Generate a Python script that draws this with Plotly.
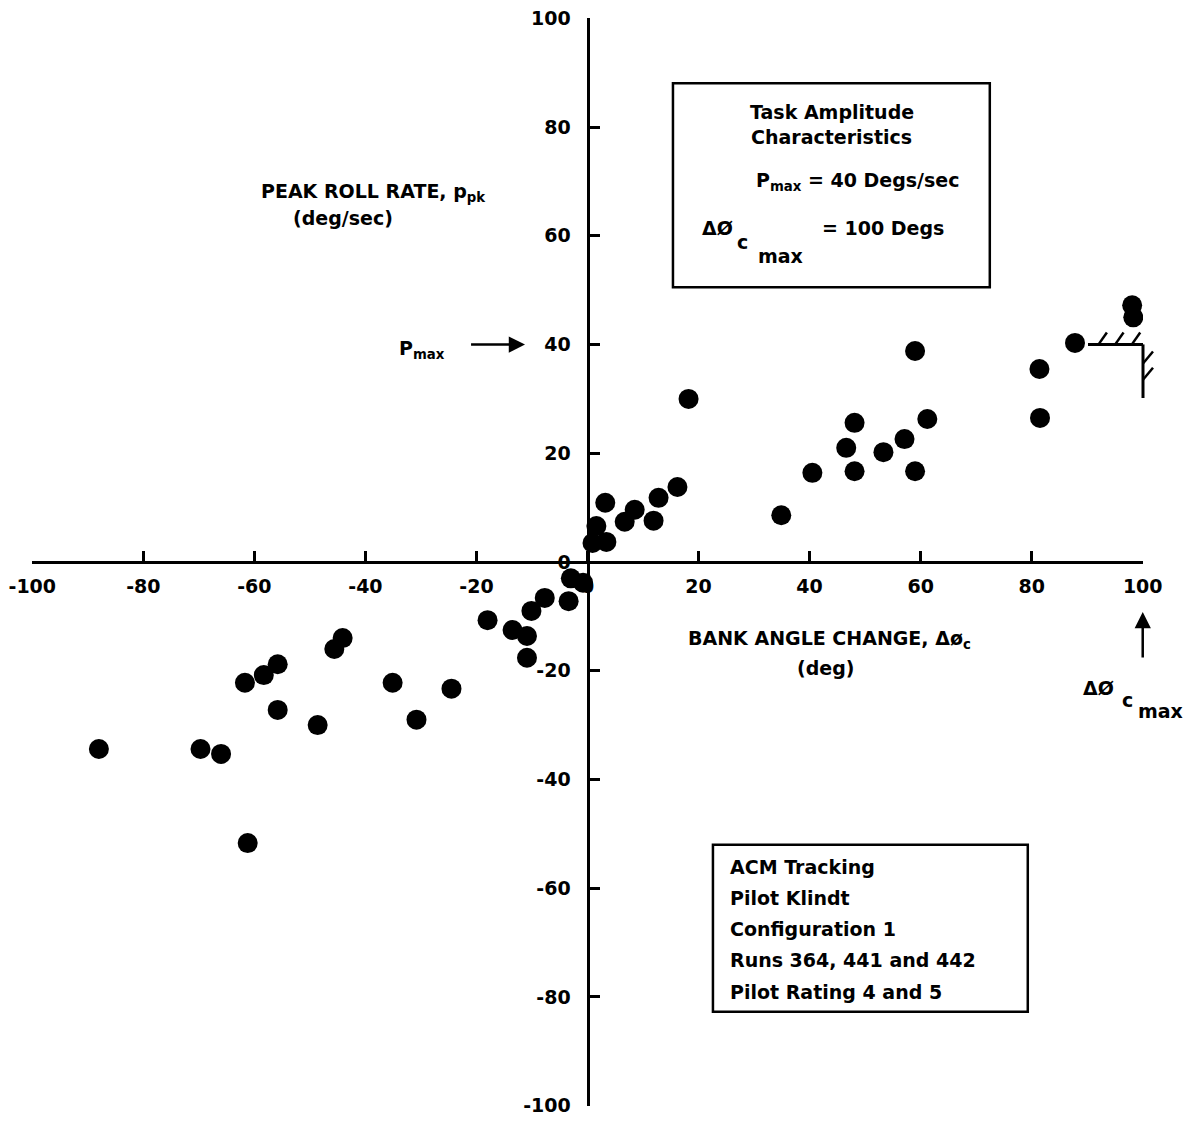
import plotly.graph_objects as go

# ---- data ----
bank_angle = [-88.0, -69.7, -66.0, -61.7, -61.2, -58.3, -55.8, -55.8, -48.6, -45.6,
              -44.1, -35.1, -30.8, -24.5, -18.0, -13.5, -10.9, -10.9, -10.1, -7.7,
              -3.4, -3.0, -0.8,
              0.9, 1.6, 3.4, 3.2, 6.7, 8.5, 11.9, 12.8, 16.2, 18.2,
              34.9, 40.5, 46.6, 48.1, 48.1, 53.3, 57.1, 59.0, 59.0, 61.2,
              81.4, 81.5, 87.8, 98.1, 98.3]
roll_rate = [-34.4, -34.4, -35.3, -22.2, -51.7, -20.8, -18.8, -27.2, -30.0, -16.0,
             -14.0, -22.2, -29.0, -23.3, -10.7, -12.5, -13.6, -17.6, -9.0, -6.6,
             -7.2, -3.0, -3.8,
             3.5, 6.6, 3.7, 10.9, 7.4, 9.6, 7.6, 11.8, 13.8, 30.0,
             8.6, 16.4, 21.0, 25.6, 16.7, 20.2, 22.6, 38.8, 16.7, 26.3,
             35.5, 26.5, 40.3, 47.2, 45.0]

tick_vals = [-100, -80, -60, -40, -20, 0, 20, 40, 60, 80, 100]
x_tick_text = ["-100", "-80", "-60", "-40", "-20", "0", "20", "40", "60", "80", "100"]
y_tick_text = ["-100", "-80", "-60", "-40", "-20", "0", "20", "40", "60", "80", "100"]

P_MAX = 40        # deg/sec
DPHI_MAX = 100    # deg

box1_lines = ["Task Amplitude", "Characteristics"]
box2_lines = ["ACM Tracking", "Pilot Klindt", "Configuration 1",
              "Runs 364, 441 and 442", "Pilot Rating 4 and 5"]

W, H = 1195, 1125
FONT = dict(family="DejaVu Sans", size=19, color="black", weight="bold")

fig = go.Figure()
fig.add_trace(go.Scatter(x=bank_angle, y=roll_rate, mode="markers",
                         marker=dict(size=20, color="black"), hoverinfo="skip"))

# the page body adds an 8 px offset, so margins are reduced on left/top
fig.update_layout(width=W, height=H, margin=dict(l=24, r=60, t=10, b=27, autoexpand=False),
                  paper_bgcolor="white", plot_bgcolor="white",
                  showlegend=False, font=FONT)
axis_common = dict(range=[-100.05, 100.05], anchor="free", position=0.5,
                   showline=True, linecolor="black", linewidth=3,
                   ticks="inside", ticklen=10, tickwidth=2.5, tickcolor="black",
                   tickvals=tick_vals, showgrid=False, zeroline=False,
                   tickfont=FONT, fixedrange=True, automargin=False,
                   ticklabeloverflow="allow")
fig.update_xaxes(**axis_common, ticktext=x_tick_text, ticklabelstandoff=6)
fig.update_yaxes(**axis_common, ticktext=y_tick_text, ticklabelstandoff=12)


def px2x(px):
    return (px - 587.5) / 5.555


def px2y(py):
    return (562 - py) / 5.44


def note(text, x, y, xanchor="center", xref="x", yref="y", size=19):
    f = dict(FONT)
    f["size"] = size
    fig.add_annotation(text=text, x=x, y=y, xref=xref, yref=yref,
                       xanchor=xanchor, yanchor="middle", showarrow=False, font=f)


def to_paper(v):
    return (v + 100) / 200.0


def arrow(x_head, y_head, x_tail, y_tail):
    fig.add_annotation(x=x_head, y=y_head, ax=x_tail, ay=y_tail,
                       xref="x", yref="y", axref="x", ayref="y", text=" ",
                       showarrow=True, arrowhead=2, arrowsize=1.3, arrowwidth=2.5,
                       arrowcolor="black")


# y-axis title
note("PEAK ROLL RATE, p<sub>pk</sub>", px2x(373), px2y(192))
note("(deg/sec)", px2x(343), px2y(218))

# x-axis title
note("BANK ANGLE CHANGE, Δø<sub>c</sub>", px2x(830), px2y(640))
note("(deg)", px2x(826), px2y(668))

# P_max arrow
note("P<sub>max</sub>", px2x(422), px2y(349))
arrow(px2x(525), P_MAX, px2x(466), P_MAX)

# dphi_max arrow
arrow(DPHI_MAX, px2y(612), DPHI_MAX, px2y(670))
note("ΔØ", (1098 - 32) / 1111, px2y(688), xref="paper")
note("c", (1127 - 32) / 1111, px2y(700), xref="paper")
note("max", (1160 - 32) / 1111, px2y(711), xref="paper")

# Box 1
fig.add_shape(type="rect", x0=px2x(673), x1=px2x(990), y0=px2y(287), y1=px2y(83),
              xref="x", yref="y", line=dict(color="black", width=2.5))
note(box1_lines[0], px2x(832), px2y(112))
note(box1_lines[1], px2x(832), px2y(137))
note("P<sub>max</sub> = %d Degs/sec" % P_MAX, px2x(858), px2y(181))
note("ΔØ", px2x(718), px2y(228))
note("c", px2x(743), px2y(242))
note("max", px2x(781), px2y(256))
note("= %d Degs" % DPHI_MAX, px2x(820), px2y(228), xanchor="left")

# Box 2
fig.add_shape(type="rect", x0=px2x(713), x1=px2x(1028), y0=px2y(1012), y1=px2y(845),
              xref="x", yref="y", line=dict(color="black", width=2.5))
for i, line in enumerate(box2_lines):
    note(line, px2x(728), px2y(867 + 31.2 * i), xanchor="left")

# hatched limit corner (p = P_MAX, dphi = DPHI_MAX)
lw = dict(color="black", width=3)
fig.add_shape(type="line", xref="paper", yref="paper",
              x0=to_paper(px2x(1088)), x1=to_paper(DPHI_MAX),
              y0=to_paper(P_MAX), y1=to_paper(P_MAX), line=lw)
fig.add_shape(type="line", xref="paper", yref="paper",
              x0=to_paper(DPHI_MAX), x1=to_paper(DPHI_MAX),
              y0=to_paper(P_MAX), y1=to_paper(px2y(398)), line=lw)
for hx in [92.0, 95.0, 98.0]:
    fig.add_shape(type="line", xref="paper", yref="paper",
                  x0=to_paper(hx), x1=to_paper(hx + 1.5),
                  y0=to_paper(P_MAX), y1=to_paper(P_MAX + 2.2),
                  line=dict(color="black", width=2.5))
for hy in [36.5, 33.5]:
    fig.add_shape(type="line", xref="paper", yref="paper",
                  x0=to_paper(DPHI_MAX), x1=to_paper(DPHI_MAX + 1.8),
                  y0=to_paper(hy), y1=to_paper(hy + 2.2),
                  line=dict(color="black", width=2.5))

fig.write_html("out.html")
